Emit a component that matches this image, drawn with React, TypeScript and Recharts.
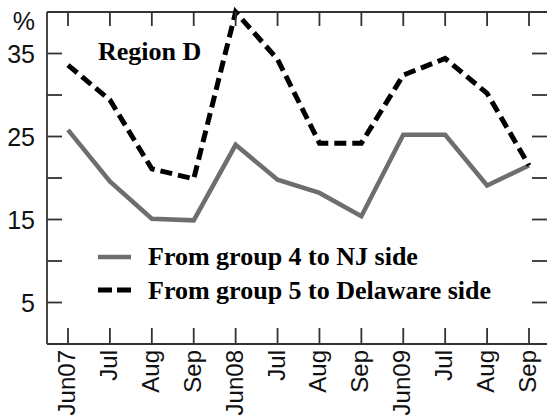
import { LineChart, Line, XAxis, YAxis, Legend, ReferenceLine } from 'recharts';

// monthly share (%) by crossing direction, summer months 2007-2009
const months = ['Jun07', 'Jul', 'Aug', 'Sep', 'Jun08', 'Jul', 'Aug', 'Sep', 'Jun09', 'Jul', 'Aug', 'Sep'];
const njSide = [25.8, 19.6, 15.1, 14.9, 24.0, 19.8, 18.2, 15.4, 25.2, 25.2, 19.1, 21.5];
const delawareSide = [33.6, 29.4, 21.1, 19.9, 40.0, 34.3, 24.2, 24.2, 32.4, 34.4, 30.2, 21.5];
const yTicks = [0, 5, 10, 15, 20, 25, 30, 35, 40];
const labelledTicks = [5, 15, 25, 35];

const rows = months.map((month, i) => ({ month, nj: njSide[i], de: delawareSide[i] }));

// frame geometry
const W = 550;
const H = 416;
const TOP = 12;
const LEFT = 47;
const BOTTOM_AXIS = 72;
const PLOT_BOTTOM = H - BOTTOM_AXIS;
const TICK = 15;

const FRAME = '#333';
const FRAME_W = 1.8;
const SANS = '"Liberation Sans", Arial, sans-serif';
const SERIF = '"Liberation Serif", "Times New Roman", serif';

const seriesStyle: Record<string, { stroke: string; width: number; dash?: string; legendDash?: string }> = {
  nj: { stroke: '#6e6e6e', width: 4.5 },
  de: { stroke: '#000', width: 5, dash: '12 6', legendDash: '14 5' },
};

// month label plus the inward tick marks on the bottom and top edges
const MonthTick = ({ x, y, payload }: any) => (
  <g>
    <line x1={x} y1={PLOT_BOTTOM} x2={x} y2={PLOT_BOTTOM - TICK - 1} stroke={FRAME} strokeWidth={FRAME_W} />
    <line x1={x} y1={TOP} x2={x} y2={TOP + TICK - 1} stroke={FRAME} strokeWidth={FRAME_W} />
    <text
      x={x - 1.5}
      y={y}
      transform={`rotate(-90, ${x - 1.5}, ${y})`}
      textAnchor="end"
      dominantBaseline="central"
      fontFamily={SANS}
      fontSize={24}
      fill="#111"
    >
      {payload.value}
    </text>
  </g>
);

// value label plus inward tick marks on the left and right edges
const PercentTick = ({ x, y, payload }: any) => {
  const v = payload.value;
  let label: string | null = null;
  let dy = 0;
  if (v === 40) {
    label = '%';
    dy = 9;
  } else if (labelledTicks.includes(v)) {
    label = String(v);
  }
  return (
    <g>
      <line x1={LEFT} y1={y} x2={LEFT + TICK} y2={y} stroke={FRAME} strokeWidth={FRAME_W} />
      <line x1={W - TICK - 3} y1={y} x2={W} y2={y} stroke={FRAME} strokeWidth={FRAME_W} />
      {label && (
        <text x={x} y={y + dy} textAnchor="end" dominantBaseline="central" fontFamily={SANS} fontSize={25} fill="#111">
          {label}
        </text>
      )}
    </g>
  );
};

const LegendBox = ({ payload }: any) => (
  <div style={{ fontFamily: SERIF, fontWeight: 'bold', fontSize: 26, lineHeight: '33.5px', color: '#000' }}>
    {(payload || []).map((entry: any) => {
      const s = seriesStyle[entry.dataKey];
      return (
        <div key={entry.dataKey} style={{ display: 'flex', alignItems: 'center', whiteSpace: 'nowrap' }}>
          <svg width={33} height={10} style={{ marginRight: 17 }}>
            <line x1={0} y1={5} x2={33} y2={5} stroke={s.stroke} strokeWidth={s.width} strokeDasharray={s.legendDash} />
          </svg>
          <span>{entry.value}</span>
        </div>
      );
    })}
  </div>
);

export default function App() {
  return (
    <div style={{ position: 'absolute', left: 0, top: 0, width: 547, height: H, overflow: 'hidden', background: '#fff' }}>
      <LineChart width={W} height={H} data={rows} margin={{ top: TOP, right: 0, bottom: 0, left: 0 }}>
        <XAxis
          dataKey="month"
          height={BOTTOM_AXIS}
          interval={0}
          padding={{ left: 21, right: 21 }}
          tickLine={false}
          tickSize={0}
          tickMargin={6}
          axisLine={{ stroke: FRAME, strokeWidth: FRAME_W }}
          tick={<MonthTick />}
        />
        <YAxis
          width={LEFT}
          domain={[0, 40]}
          ticks={yTicks}
          interval={0}
          tickLine={false}
          tickSize={0}
          tickMargin={12}
          axisLine={{ stroke: FRAME, strokeWidth: FRAME_W }}
          tick={<PercentTick />}
        />
        {/* top edge of the frame */}
        <ReferenceLine y={40} stroke={FRAME} strokeWidth={FRAME_W} />
        <Legend
          layout="vertical"
          align="center"
          verticalAlign="middle"
          content={<LegendBox />}
          wrapperStyle={{ left: 98, top: 240, width: 'auto' }}
        />
        <Line
          dataKey="nj"
          name="From group 4 to NJ side"
          stroke={seriesStyle.nj.stroke}
          strokeWidth={seriesStyle.nj.width}
          dot={false}
          isAnimationActive={false}
        />
        <Line
          dataKey="de"
          name="From group 5 to Delaware side"
          stroke={seriesStyle.de.stroke}
          strokeWidth={seriesStyle.de.width}
          strokeDasharray={seriesStyle.de.dash}
          dot={false}
          isAnimationActive={false}
        />
      </LineChart>
      <div
        style={{
          position: 'absolute',
          left: 98,
          top: 34.5,
          fontFamily: SERIF,
          fontWeight: 'bold',
          fontSize: 26,
          lineHeight: '33.5px',
          whiteSpace: 'nowrap',
        }}
      >
        Region D
      </div>
    </div>
  );
}
